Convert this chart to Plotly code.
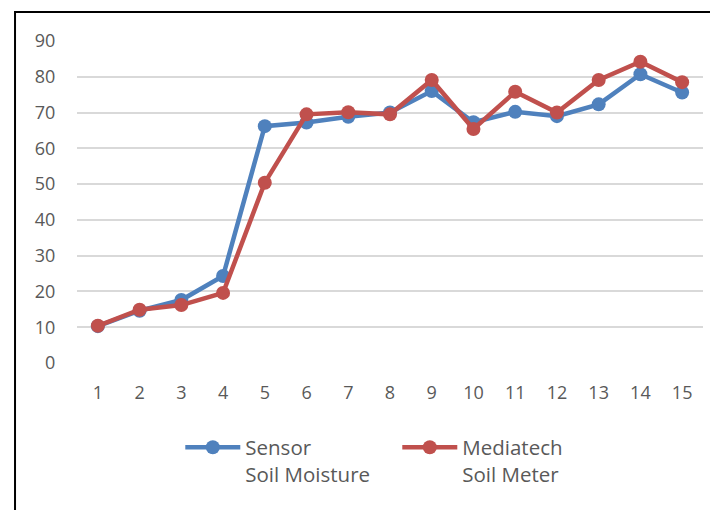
import plotly.graph_objects as go

days = list(range(1, 16))
sensor = [10.3, 14.6, 17.6, 24.3, 66.2, 67.2, 68.8, 70.0, 76.0, 67.3, 70.2, 69.0, 72.3, 80.7, 75.6]
mediatech = [10.4, 14.9, 16.2, 19.6, 50.4, 69.5, 70.1, 69.5, 79.1, 65.4, 75.8, 70.0, 79.1, 84.2, 78.5]
names = ["Sensor<br>Soil Moisture", "Mediatech<br>Soil Meter"]
y_ticks = list(range(0, 100, 10))

FONT = "Open Sans, sans-serif"
fig = go.Figure()
fig.add_trace(go.Scatter(x=days, y=sensor, name=names[0], mode="lines+markers",
                         line=dict(color="#4F81BD", width=4.5),
                         marker=dict(size=14, color="#4F81BD")))
fig.add_trace(go.Scatter(x=days, y=mediatech, name=names[1], mode="lines+markers",
                         line=dict(color="#C0504D", width=4.5),
                         marker=dict(size=14, color="#C0504D")))

fig.update_layout(
    width=710, height=502,
    margin=dict(l=69, r=15, t=33, b=147),
    paper_bgcolor="white", plot_bgcolor="white",
    font=dict(family=FONT, size=18, color="#595959"),
    xaxis=dict(range=[0.5, 15.5], tickmode="array", tickvals=days,
               ticktext=[str(d) for d in days], showgrid=False, zeroline=False,
               showline=False, ticks="outside", ticklen=13, tickcolor="rgba(0,0,0,0)"),
    yaxis=dict(range=[0, 90], tickmode="array", tickvals=y_ticks,
               showgrid=True, gridcolor="#D9D9D9", gridwidth=1.5,
               zeroline=False, showline=False, ticks="outside", ticklen=17,
               tickcolor="rgba(0,0,0,0)"),
    showlegend=True,
    legend=dict(orientation="h", x=0.165, y=-0.2, xanchor="left", yanchor="top",
                valign="top", entrywidth=147, entrywidthmode="pixels", itemwidth=55,
                font=dict(family=FONT, size=20.5, color="#595959"),
                bgcolor="rgba(0,0,0,0)"),
)
fig.add_shape(type="rect", xref="paper", yref="paper",
              x0=-0.099, x1=1.05, y0=-0.5, y1=1.09,
              line=dict(color="black", width=2), fillcolor="rgba(0,0,0,0)", layer="below")

fig.write_html("out.html")
